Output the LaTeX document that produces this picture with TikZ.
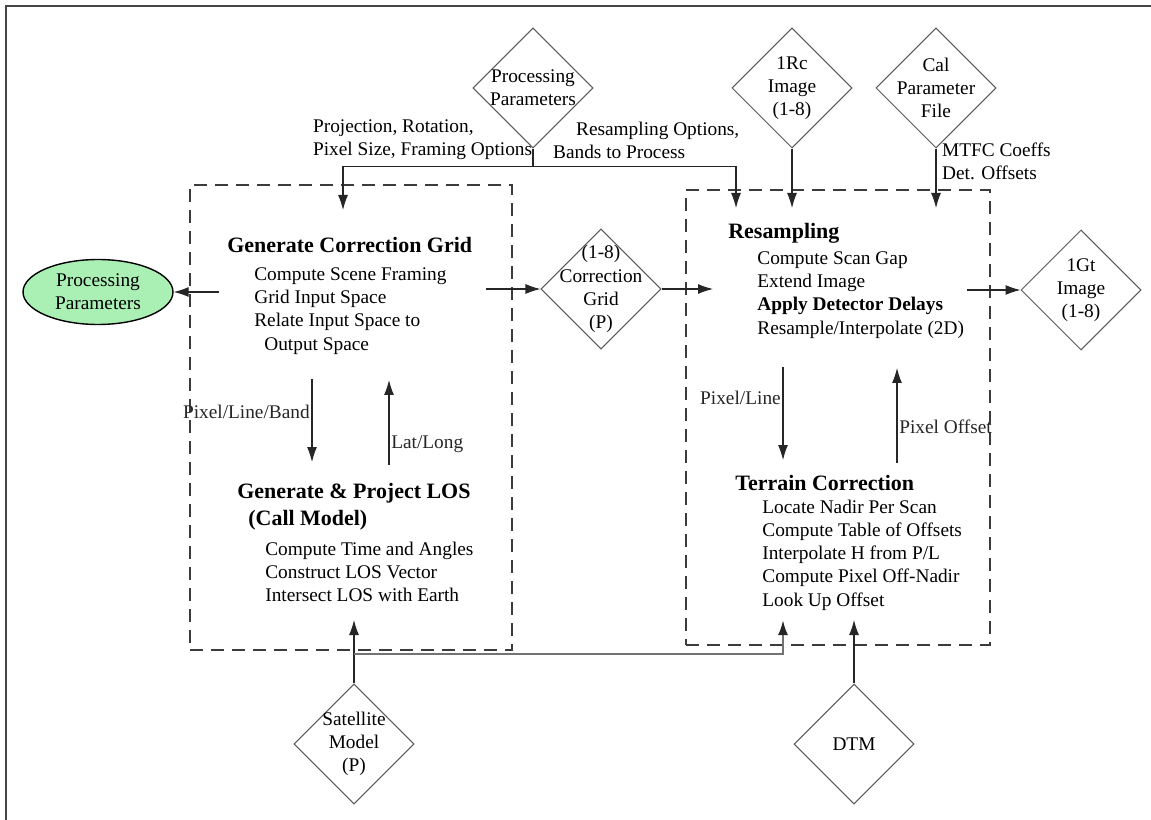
\documentclass[tikz,border=0pt]{standalone}
\usepackage{fontspec}
\setmainfont{Liberation Serif}
\usetikzlibrary{shapes.geometric,arrows.meta,positioning}
\definecolor{framegray}{RGB}{70,70,70}
\definecolor{dashgray}{RGB}{60,60,60}
\definecolor{ovalgreen}{RGB}{170,240,180}

\begin{document}
\begin{tikzpicture}[
  x=0.02cm, y=-0.02cm,
  font=\fontsize{11}{13.2}\selectfont,
  store/.style={diamond,draw=black!65,line width=0.6pt,minimum width=2.4cm,minimum height=2.4cm,
                inner sep=-10pt,align=center},
  oval/.style={ellipse,draw=black,fill=ovalgreen,line width=0.8pt,minimum width=3cm,
               minimum height=1.3cm,inner sep=0pt,align=center},
  grpbox/.style={rectangle,draw=dashgray,line width=1.1pt,dash pattern=on 0.26cm off 0.16cm},
  head/.style={font=\fontsize{12.5}{15.3}\selectfont\bfseries,anchor=west,align=left,inner sep=0pt},
  body/.style={anchor=west,align=left,inner sep=0pt},
  arrow/.style={-{Latex[length=0.3cm,width=0.2cm]},black!85,line width=0.6pt},
  feed/.style={-{Latex[length=0.3cm,width=0.2cm,color=black!85]},black!55,line width=1.3pt},
  lbl/.style={inner sep=1pt,align=left},
]
\useasboundingbox (0,0) rectangle (1151,820);
\draw[framegray,line width=1.2pt] (6,820) -- (6,6) -- (1151,6);

% data stores
\node[store] (ppar)  at (533,88)   {Processing\\Parameters};
\node[store] (rcimg) at (792,88)   {1Rc\\Image\\(1-8)};
\node[store] (calp)  at (936,88)   {Cal\\Parameter\\File};
\node[store] (cgrid) at (601,289)  {(1-8)\\Correction\\Grid\\(P)};
\node[store] (gtimg) at (1081,290) {1Gt\\Image\\(1-8)};
\node[store] (satm)  at (354,744)  {Satellite\\Model\\(P)};
\node[store] (dtm)   at (854,744)  {DTM};
\node[oval]  (procE) at (98,292)   {Processing\\Parameters};

% process groups
\node[grpbox,minimum width=6.44cm,minimum height=9.3cm] (gridbox) at (351,417.5) {};
\node[grpbox,minimum width=6.08cm,minimum height=9.1cm] (rsbox)   at (838,417.5) {};

\node[head] (gcg)    at (227,245) {Generate Correction Grid};
\node[body] (gcgtxt) at (254,311) {Compute Scene Framing\\Grid Input Space\\Relate Input Space to\\\hspace*{0.2cm}Output Space};
\node[head] (gpl)    at (237,507) {Generate \& Project LOS\\\hspace*{0.22cm}(Call Model)};
\node[body] (gpltxt) at (265,572) {Compute Time and Angles\\Construct LOS Vector\\Intersect LOS with Earth};
\node[head] (rsp)    at (728,233) {Resampling};
\node[body] (rsptxt) at (757,295) {Compute Scan Gap\\Extend Image\\\textbf{Apply Detector Delays}\\Resample/Interpolate (2D)};
\node[head] (trc)    at (735,483) {Terrain Correction};
\node[body] (trctxt) at (762,555) {Locate Nadir Per Scan\\Compute Table of Offsets\\Interpolate H from P/L\\Compute Pixel Off-Nadir\\Look Up Offset};

% arrow ends
\coordinate (gcgTop)  at (343,210);
\coordinate (rsTopA)  at (736,208);
\coordinate (rsTopB)  at (792,208);
\coordinate (rsTopC)  at (936,208);
\coordinate (gcgL)    at (219,292);
\coordinate (gcgR)    at (486,289);
\coordinate (rsL)     at (713,289);
\coordinate (rsR)     at (967,290);
\coordinate (gcgDn1)  at (312,379);
\coordinate (gplUp1)  at (312,462);
\coordinate (gplUp2)  at (389,465);
\coordinate (gcgDn2)  at (389,380);
\coordinate (rsDn1)   at (783,367);
\coordinate (trcUp1)  at (783,460);
\coordinate (trcUp2)  at (897,463);
\coordinate (rsDn2)   at (897,368);
\coordinate (gplBot)  at (354,620);
\coordinate (split)   at (354,654);
\coordinate (trcBotA) at (783,620);
\coordinate (trcBotB) at (854,620);

\node[lbl,anchor=west] (projlbl) at (311,140) {Projection, Rotation,\\Pixel Size, Framing Options};
\node[lbl,anchor=west] (rsmlbl)  at (551,140) {\hspace*{0.46cm}Resampling Options,\\Bands to Process};
\node[lbl,anchor=west] (mtfclbl) at (940,161) {MTFC Coeffs\\Det. Offsets};

\draw[arrow] (ppar.south) -- ++(0,18) -| (gcgTop);
\draw[arrow] (ppar.south) -- ++(0,18) -| (rsTopA);
\draw[arrow] (rcimg.south) -- (rsTopB);
\draw[arrow] (calp.south) -- (rsTopC);
\draw[arrow] (gcgL) -- (procE);
\draw[arrow] (gcgR) -- (cgrid);
\draw[arrow] (cgrid) -- (rsL);
\draw[arrow] (rsR) -- (gtimg);
\draw[arrow] (gcgDn1) -- node[lbl,left,pos=0.4]{Pixel/Line/Band} (gplUp1);
\draw[arrow] (gplUp2) -- node[lbl,right,pos=0.24]{Lat/Long} (gcgDn2);
\draw[arrow] (rsDn1) -- node[lbl,left,pos=0.33]{Pixel/Line} (trcUp1);
\draw[arrow] (trcUp2) -- node[lbl,right,pos=0.38]{Pixel Offset} (rsDn2);
\draw[arrow] (satm) -- (gplBot);
\draw[feed] (split) -| (trcBotA);
\draw[arrow] (dtm) -- (trcBotB);
\end{tikzpicture}
\end{document}
